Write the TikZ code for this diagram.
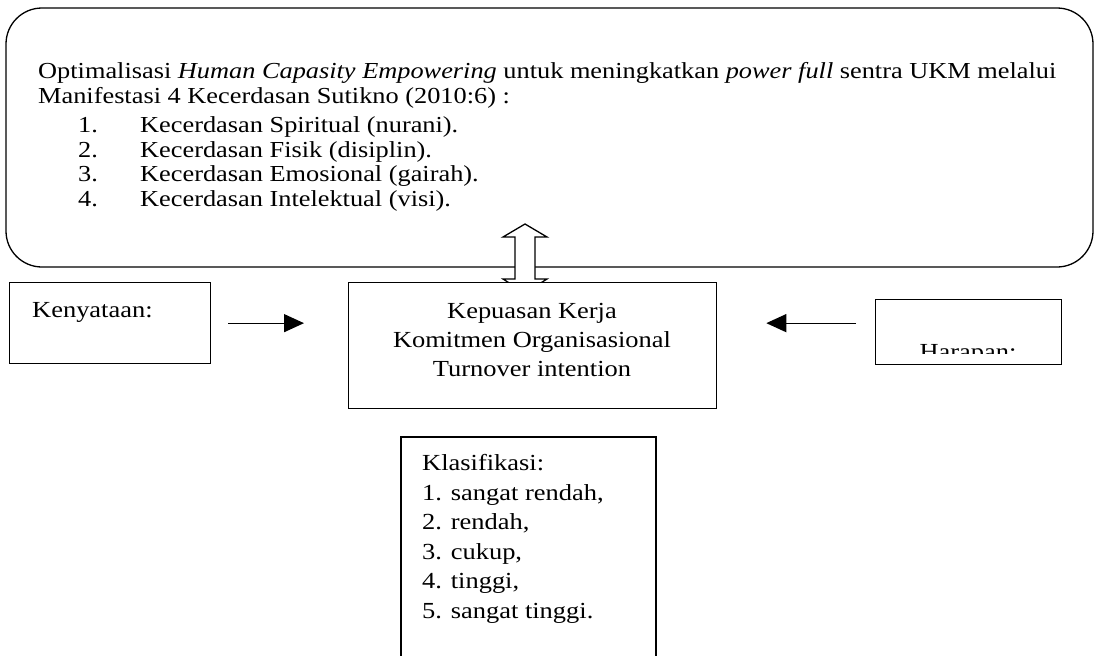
\documentclass[tikz,border=0pt]{standalone}
\usepackage{fontspec}
\setmainfont{Liberation Serif}[FakeStretch=1.15]
\usetikzlibrary{arrows.meta}
\begin{document}
\begin{tikzpicture}[x=1pt,y=-1pt,
  box/.style={draw, line width=1.3pt, fill=white, inner sep=0pt},
  arr/.style={line width=1.3pt, -{Triangle[length=20pt,width=18pt]}},
  lowtxt/.style={font=\fontsize{23}{29}\selectfont, inner sep=0pt},
  toptxt/.style={font=\fontsize{22.9}{25}\selectfont, inner sep=0pt, anchor=base west}]
\useasboundingbox (0,0) rectangle (1096,656);
% top rounded box
\draw[line width=1.3pt, rounded corners=36pt] (6,8) rectangle (1093,267);
\node[toptxt] (l1) at (38,78) {Optimalisasi \textit{Human Capasity Empowering} untuk meningkatkan \textit{power full} sentra UKM melalui};
\node[toptxt] (l2) at (38,103) {Manifestasi 4 Kecerdasan Sutikno (2010:6) :};
\node[toptxt] (i1) at (78,132) {1.};
\node[toptxt] (i2) at (78,157) {2.};
\node[toptxt] (i3) at (78,181) {3.};
\node[toptxt] (i4) at (78,206) {4.};
\node[toptxt] (t1) at (140,132) {Kecerdasan Spiritual (nurani).};
\node[toptxt] (t2) at (140,157) {Kecerdasan Fisik (disiplin).};
\node[toptxt] (t3) at (140,181) {Kecerdasan Emosional (gairah).};
\node[toptxt] (t4) at (140,206) {Kecerdasan Intelektual (visi).};
% double arrow
\draw[line width=1.3pt, fill=white, line join=miter]
  (525,224) -- (547,237) -- (535,237) -- (535,279) -- (547,279) -- (525,293)
  -- (503,279) -- (515,279) -- (515,237) -- (503,237) -- cycle;
% central box
\node[box, minimum width=368pt, minimum height=126pt, anchor=north west] (kep) at (348,282) {};
\node[lowtxt, anchor=base] (c1) at (532,318) {Kepuasan Kerja};
\node[lowtxt, anchor=base] (c2) at (532,347) {Komitmen Organisasional};
\node[lowtxt, anchor=base] (c3) at (532,376) {Turnover intention};
% left box
\node[box, minimum width=201pt, minimum height=81pt, anchor=north west] (ken) at (9,282) {};
\node[lowtxt, anchor=base west] (kentxt) at (32,317) {Kenyataan:};
% right box
\node[box, minimum width=186pt, minimum height=65pt, anchor=north west] (har) at (875,299) {};
\begin{scope}
\clip (876,300) rectangle (1060,353);
\node[lowtxt, anchor=base] (hartxt) at (968,359) {Harapan:};
\end{scope}
% arrows
\draw[arr, shorten <=17pt, shorten >=44pt] (ken.east) -- (ken.east -| kep.west);
\draw[arr, shorten <=19pt, shorten >=49pt] (ken.east -| har.west) -- (ken.east -| kep.east);
% klasifikasi box
\draw[line width=1.3pt] (401,670) coordinate (kb1) -- (401,437) -- (656,437) -- (656,670) coordinate (kb2);
\node[lowtxt, anchor=base west] (k0) at (422,470) {Klasifikasi:};
\node[lowtxt, anchor=base west] (k1) at (422,500) {1. sangat rendah,};
\node[lowtxt, anchor=base west] (k2) at (422,529) {2. rendah,};
\node[lowtxt, anchor=base west] (k3) at (422,559) {3. cukup,};
\node[lowtxt, anchor=base west] (k4) at (422,588) {4. tinggi,};
\node[lowtxt, anchor=base west] (k5) at (422,618) {5. sangat tinggi.};
\end{tikzpicture}
\end{document}
